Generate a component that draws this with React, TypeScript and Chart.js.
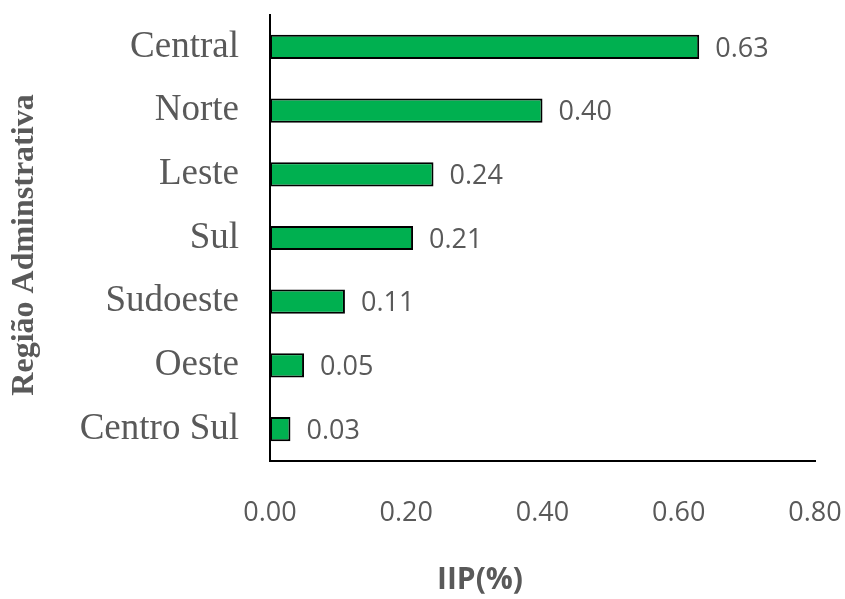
import React, { useEffect, useRef } from "react";
import { Chart, registerables } from "chart.js";

Chart.register(...registerables);

const categories = ["Central", "Norte", "Leste", "Sul", "Sudoeste", "Oeste", "Centro Sul"];
const values = [0.63, 0.40, 0.24, 0.21, 0.11, 0.05, 0.03];
const xTicks = [0, 0.2, 0.4, 0.6, 0.8];
const xTitle = "IIP(%)";
const yTitle = "Região Adminstrativa";

const GREY = "#595959";
const SANS = "'Open Sans', 'Liberation Sans', sans-serif";
const SERIF = "'Liberation Serif', 'Times New Roman', serif";

const labelPlugin = {
  id: "labels",
  afterDatasetsDraw(chart: any) {
    const ctx = chart.ctx;
    const meta = chart.getDatasetMeta(0);
    ctx.save();
    ctx.font = `27px ${SANS}`;
    ctx.fillStyle = GREY;
    ctx.textAlign = "left";
    ctx.textBaseline = "middle";
    meta.data.forEach((el: any, i: number) => {
      ctx.fillText(values[i].toFixed(2), el.x + 16, el.y + 2);
    });
    // titles
    ctx.font = `bold 30px ${SANS}`;
    ctx.textAlign = "center";
    ctx.textBaseline = "middle";
    ctx.fillText(xTitle, 480, 580);
    ctx.translate(25, 245);
    ctx.rotate(-Math.PI / 2);
    ctx.font = `bold 32px ${SERIF}`;
    ctx.fillText(yTitle, 0, 0);
    ctx.restore();
  },
};

export default function App() {
  const ref = useRef<HTMLCanvasElement>(null);
  useEffect(() => {
    document.body.style.margin = "0";
    const chart = new Chart(ref.current!, {
      type: "bar",
      data: {
        labels: categories,
        datasets: [
          {
            data: values,
            backgroundColor: "#00B050",
            borderColor: "#000000",
            borderWidth: 2,
            borderSkipped: false,
            barPercentage: 0.38,
            categoryPercentage: 1,
          },
        ],
      },
      options: {
        indexAxis: "y",
        animation: false,
        responsive: false,
        layout: { padding: { top: 15, right: 30, left: 0, bottom: 0 } },
        plugins: { legend: { display: false }, tooltip: { enabled: false } },
        scales: {
          x: {
            min: 0,
            max: 0.8,
            afterBuildTicks(scale: any) {
              scale.ticks = xTicks.map((v) => ({ value: v }));
            },
            afterFit(scale: any) {
              scale.height = 138;
              scale.paddingLeft = 0;
              scale.paddingRight = 0;
            },
            grid: { display: false, drawTicks: false },
            border: { display: true, color: "#000", width: 2 },
            ticks: {
              padding: 36,
              color: GREY,
              font: { family: SANS, size: 27 },
              callback: (v: any) => Number(v).toFixed(2),
            },
          },
          y: {
            afterFit(scale: any) {
              scale.width = 270;
              scale.paddingTop = 0;
              scale.paddingBottom = 0;
            },
            grid: { display: false, drawTicks: false },
            border: { display: true, color: "#000", width: 2 },
            ticks: {
              padding: 31,
              color: GREY,
              font: { family: SERIF, size: 37 },
            },
          },
        },
      },
      plugins: [labelPlugin],
    });
    return () => chart.destroy();
  }, []);
  return (
    <div style={{ width: 845, height: 599 }}>
      <canvas ref={ref} width={845} height={599} style={{ display: "block" }} />
    </div>
  );
}
